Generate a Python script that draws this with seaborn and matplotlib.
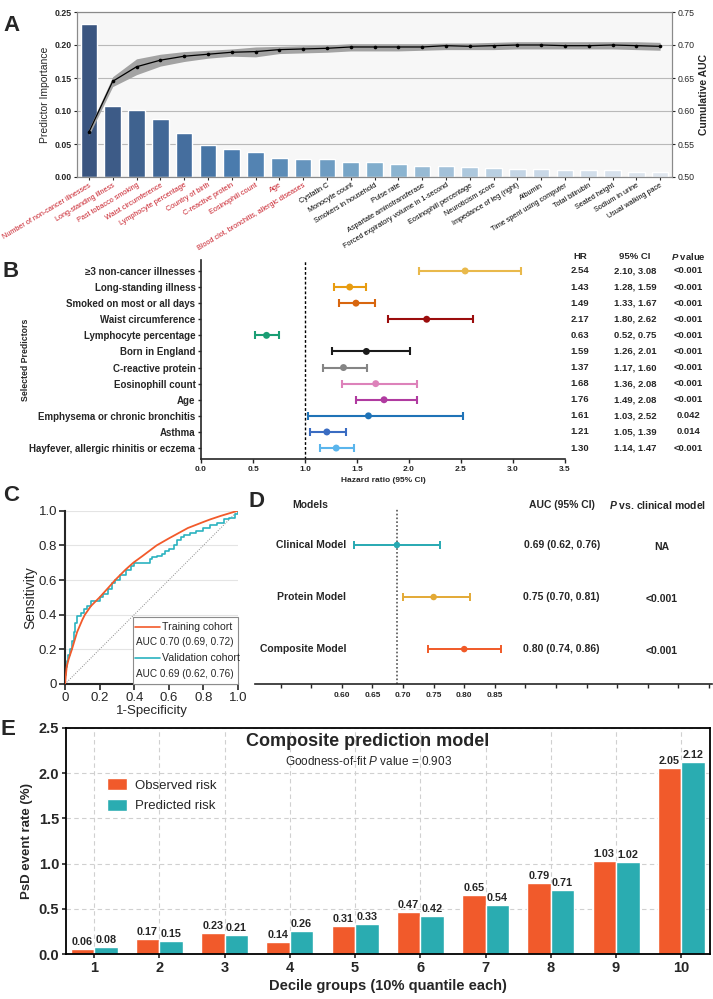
import matplotlib
matplotlib.use("Agg")
import matplotlib.pyplot as plt
import numpy as np
import pandas as pd
import seaborn as sns
from matplotlib.patches import Rectangle

# ---------------- panel A: predictor importance + cumulative AUC
a_features = [
    "Number of non-cancer illnesses", "Long-standing illness", "Past tobacco smoking",
    "Waist circumference", "Lymphocyte percentage", "Country of birth",
    "C-reactive protein", "Eosinophill count", "Age",
    "Blood clot, bronchitis, allergic diseases", "Cystatin C", "Monocyte count",
    "Smokers in household", "Pulse rate", "Aspartate aminotransferase",
    "Forced expiratory volume in 1-second", "Eosinophill percentage", "Neuroticism score",
    "Impedance of leg (right)", "Albumin", "Time spent using computer",
    "Total bilirubin", "Seated height", "Sodium in urine", "Usual walking pace",
]
a_n_selected = 10
a_importance = [0.232, 0.107, 0.102, 0.088, 0.067, 0.048, 0.042, 0.038, 0.029, 0.027,
                0.027, 0.023, 0.023, 0.019, 0.017, 0.017, 0.015, 0.014, 0.012, 0.012,
                0.011, 0.011, 0.010, 0.008, 0.008]
a_auc = [0.568, 0.645, 0.667, 0.677, 0.683, 0.686, 0.689, 0.690, 0.693, 0.694,
         0.695, 0.697, 0.697, 0.697, 0.697, 0.699, 0.698, 0.699, 0.700, 0.700,
         0.699, 0.699, 0.700, 0.699, 0.698]
a_auc_lo = [0.563, 0.637, 0.655, 0.668, 0.675, 0.680, 0.683, 0.682, 0.687, 0.688,
            0.689, 0.691, 0.691, 0.691, 0.692, 0.693, 0.693, 0.693, 0.694, 0.694,
            0.694, 0.694, 0.694, 0.693, 0.692]
a_auc_hi = [0.573, 0.652, 0.679, 0.686, 0.690, 0.692, 0.694, 0.697, 0.698, 0.699,
            0.700, 0.702, 0.702, 0.702, 0.702, 0.703, 0.703, 0.704, 0.705, 0.705,
            0.705, 0.705, 0.705, 0.705, 0.704]

# ---------------- panel B: hazard ratios
b_predictors = [
    "≥3 non-cancer illnesses", "Long-standing illness", "Smoked on most or all days",
    "Waist circumference", "Lymphocyte percentage", "Born in England",
    "C-reactive protein", "Eosinophill count", "Age",
    "Emphysema or chronic bronchitis", "Asthma", "Hayfever, allergic rhinitis or eczema",
]
b_hr = [2.54, 1.43, 1.49, 2.17, 0.63, 1.59, 1.37, 1.68, 1.76, 1.61, 1.21, 1.30]
b_lo = [2.10, 1.28, 1.33, 1.80, 0.52, 1.26, 1.17, 1.36, 1.49, 1.03, 1.05, 1.14]
b_hi = [3.08, 1.59, 1.67, 2.62, 0.75, 2.01, 1.60, 2.08, 2.08, 2.52, 1.39, 1.47]
b_p = ["<0.001"] * 9 + ["0.042", "0.014", "<0.001"]
b_colors = ["#e9b94b", "#e89c10", "#d8660f", "#9b0d0d", "#1a9e74", "#1b1b1b",
            "#858585", "#dd82ba", "#b03ba0", "#1f73b7", "#3a6cc2", "#5ab5ec"]

# ---------------- panel C: ROC curves
c_train_fpr = [0, 0.005, 0.01, 0.02, 0.04, 0.07, 0.1, 0.115, 0.15, 0.2, 0.25, 0.29, 0.35,
               0.395, 0.45, 0.53, 0.6, 0.71, 0.8, 0.84, 0.9, 0.95, 1.0]
c_train_tpr = [0, 0.05, 0.1, 0.14, 0.2, 0.3, 0.37, 0.4, 0.45, 0.5, 0.555, 0.6, 0.66,
               0.7, 0.74, 0.8, 0.84, 0.9, 0.935, 0.95, 0.97, 0.985, 1.0]
c_valid_fpr = [0, 0.005, 0.01, 0.02, 0.03, 0.04, 0.05, 0.06, 0.07, 0.09, 0.11, 0.13, 0.15,
               0.2, 0.22, 0.25, 0.27, 0.29, 0.32, 0.35, 0.38, 0.4, 0.49, 0.5, 0.53, 0.56,
               0.58, 0.6, 0.63, 0.65, 0.67, 0.69, 0.72, 0.76, 0.8, 0.84, 0.88, 0.92, 0.95,
               0.98, 1.0]
c_valid_tpr = [0.05, 0.1, 0.13, 0.17, 0.2, 0.25, 0.3, 0.35, 0.39, 0.41, 0.43, 0.45, 0.48,
               0.5, 0.52, 0.55, 0.58, 0.6, 0.63, 0.66, 0.68, 0.7, 0.72, 0.73, 0.74, 0.75,
               0.77, 0.78, 0.8, 0.83, 0.85, 0.86, 0.87, 0.88, 0.9, 0.92, 0.93, 0.95, 0.96,
               0.98, 1.0]
c_legend = ["Training cohort", "AUC 0.70 (0.69, 0.72)",
            "Validation cohort", "AUC 0.69 (0.62, 0.76)"]

# ---------------- panel D: model AUCs
d_models = ["Clinical Model", "Protein Model", "Composite Model"]
d_auc = [0.69, 0.75, 0.80]
d_lo = [0.62, 0.70, 0.74]
d_hi = [0.76, 0.81, 0.86]
d_p = ["NA", "<0.001", "<0.001"]
d_colors = ["#27a9b2", "#e3a935", "#f05a28"]

# ---------------- panel E: calibration by decile
e_deciles = list(range(1, 11))
e_observed = [0.06, 0.17, 0.23, 0.14, 0.31, 0.47, 0.65, 0.79, 1.03, 2.05]
e_predicted = [0.08, 0.15, 0.21, 0.26, 0.33, 0.42, 0.54, 0.71, 1.02, 2.12]
e_colors = ["#f15a2b", "#2aacb1"]

sns.set_style("ticks")
plt.rcParams["font.family"] = ["Liberation Sans", "DejaVu Sans"]
plt.rcParams["mathtext.fontset"] = "custom"
plt.rcParams["mathtext.rm"] = "Liberation Sans"
plt.rcParams["mathtext.it"] = "Liberation Sans:italic"
plt.rcParams["mathtext.bf"] = "Liberation Sans:bold"
plt.rcParams["mathtext.bfit"] = "Liberation Sans:italic:bold"

W, H = 713, 999
fig = plt.figure(figsize=(W / 100, H / 100), dpi=100)


def box(x0, y0, x1, y1):
    return [x0 / W, 1 - y1 / H, (x1 - x0) / W, (y1 - y0) / H]


# ======== A
ax = fig.add_axes(box(77, 12, 672, 177))
ax.set_facecolor("#f7f7f7")
bar_cols = sns.blend_palette(["#3a5580", "#4a7bad", "#80adcc", "#c4d5e5", "#e0e7ef"],
                             len(a_features))
sns.barplot(x=a_features, y=a_importance, hue=a_features, palette=bar_cols, legend=False,
            width=0.7, saturation=1, ax=ax, zorder=2)
ax.set_xlim(-0.5, len(a_features) - 0.5)
ax.set_ylim(0, 0.25)
ax.set_yticks(np.arange(0, 0.251, 0.05))
ax.yaxis.set_major_formatter("{x:.2f}")
ax.grid(axis="y", color="#b9b9b9", lw=0.8)
ax.set_axisbelow(True)
ax.set_xlabel("")
ax.set_ylabel("Predictor Importance", fontsize=7.5, labelpad=3)
for sp in ax.spines.values():
    sp.set_color("#8a8a8a")
    sp.set_linewidth(0.8)
ax.tick_params(axis="y", labelsize=6.3, length=2.5, width=0.8, pad=1.5)
for t in ax.get_yticklabels():
    t.set_fontweight("bold")
ax.set_xticks(range(len(a_features)))
ax.set_xticklabels(a_features, rotation=31, ha="right", rotation_mode="anchor", fontsize=5.2)
ax.tick_params(axis="x", length=2, width=0.8, pad=1.5)
for i, t in enumerate(ax.get_xticklabels()):
    t.set_color("#c81f2a" if i < a_n_selected else "black")

ax2 = ax.twinx()
xs = np.arange(len(a_features))
ax2.fill_between(xs, a_auc_lo, a_auc_hi, color="#a3a3a3", lw=0, zorder=1)
sns.lineplot(x=xs, y=a_auc, color="black", lw=0.9, marker="o", markersize=2.6,
             markeredgewidth=0, ax=ax2)
ax2.set_ylim(0.5, 0.75)
ax2.set_yticks(np.arange(0.5, 0.751, 0.05))
ax2.yaxis.set_major_formatter("{x:.2f}")
ax2.grid(False)
ax2.tick_params(axis="y", labelsize=6.3, length=2.5, width=0.8, pad=1.5)
ax2.set_ylabel("Cumulative AUC", fontsize=7.5, fontweight="bold", labelpad=3)
for sp in ax2.spines.values():
    sp.set_color("#8a8a8a")
    sp.set_linewidth(0.8)

# ======== B
ax = fig.add_axes(box(201, 260, 565, 459))
rows = np.arange(len(b_predictors))
for i in rows:
    ax.errorbar(b_hr[i], i, xerr=[[b_hr[i] - b_lo[i]], [b_hi[i] - b_hr[i]]], fmt="none",
                ecolor=b_colors[i], elinewidth=1.5, capsize=3, capthick=1.5)
sns.scatterplot(x=b_hr, y=rows, hue=b_predictors, palette=dict(zip(b_predictors, b_colors)),
                s=25, linewidth=0, legend=False, ax=ax, zorder=3)
ax.axvline(1.0, color="black", ls=(0, (2, 1.5)), lw=1)
ax.set_xlim(0, 3.5)
ax.set_ylim(len(b_predictors) - 0.32, -0.68)
ax.set_yticks(rows)
ax.set_yticklabels(b_predictors, fontsize=7, fontweight="bold")
ax.set_xticks(np.arange(0, 3.51, 0.5))
ax.xaxis.set_major_formatter("{x:.1f}")
ax.tick_params(axis="x", labelsize=6, length=3, width=1, pad=2)
ax.tick_params(axis="y", length=2.5, width=1, pad=1.5)
for t in ax.get_xticklabels():
    t.set_fontweight("bold")
ax.set_xlabel("Hazard ratio (95% CI)", fontsize=6, fontweight="bold", labelpad=3)
ax.set_ylabel("Selected Predictors", fontsize=6.3, fontweight="bold")
ax.yaxis.set_label_coords(-0.47, 0.5)
sns.despine(ax=ax)
for sp in ["left", "bottom"]:
    ax.spines[sp].set_linewidth(1.2)
tr = ax.get_yaxis_transform()
cols_x = [1.041, 1.192, 1.338]
for x, head in zip(cols_x, ["HR", "95% CI", r"$\mathbfit{P}$ value"]):
    ax.text(x, -0.87, head, transform=tr, ha="center", va="center", fontsize=6.8,
            fontweight="bold")
for i in rows:
    ax.text(cols_x[0], i, f"{b_hr[i]:.2f}", transform=tr, ha="center", va="center",
            fontsize=6.8, fontweight="bold")
    ax.text(cols_x[1], i, f"{b_lo[i]:.2f}, {b_hi[i]:.2f}", transform=tr, ha="center",
            va="center", fontsize=6.8, fontweight="bold")
    ax.text(cols_x[2], i, b_p[i], transform=tr, ha="center", va="center", fontsize=6.8,
            fontweight="bold")

# ======== C
ax = fig.add_axes(box(65, 510.7, 238, 684))
ax.plot([0, 1], [0, 1], ls=(0, (1, 1.5)), color="#8a8a8a", lw=0.7)
sns.lineplot(x=c_train_fpr, y=c_train_tpr, sort=False, estimator=None, color="#f25a2b",
             lw=1.3, ax=ax, zorder=3)
sns.lineplot(x=c_valid_fpr, y=c_valid_tpr, sort=False, estimator=None, color="#2bb3c0",
             lw=1.2, drawstyle="steps-post", ax=ax, zorder=2)
ax.set_xlim(0, 1)
ax.set_ylim(0, 1)
ticks = np.arange(0, 1.01, 0.2)
tick_txt = ["0", "0.2", "0.4", "0.6", "0.8", "1.0"]
ax.set_xticks(ticks)
ax.set_xticklabels(tick_txt, fontsize=9.5)
ax.set_yticks(ticks)
ax.set_yticklabels(tick_txt, fontsize=9.5)
ax.grid(axis="y", color="#e4e4e4", lw=0.8)
ax.set_axisbelow(True)
ax.tick_params(length=4, width=1.2, pad=1.5)
ax.set_xlabel("1-Specificity", fontsize=9.5, labelpad=1)
ax.set_ylabel("Sensitivity", fontsize=10, labelpad=1)
sns.despine(ax=ax)
for sp in ["left", "bottom"]:
    ax.spines[sp].set_linewidth(1.5)
ax.add_patch(Rectangle((0.391, 0.0), 0.609, 0.384, transform=ax.transAxes,
                       facecolor="white", edgecolor="#8c8c8c", lw=0.8, zorder=4,
                       clip_on=False))
leg_y = [0.328, 0.240, 0.150, 0.059]
for k, (y, txt) in enumerate(zip(leg_y, c_legend)):
    if k % 2 == 0:
        ax.plot([0.405, 0.549], [y, y], transform=ax.transAxes, lw=1.2, zorder=5,
                color=["#f25a2b", "#2bb3c0"][k // 2])
        ax.text(0.559, y, txt, transform=ax.transAxes, va="center", ha="left",
                fontsize=7.6, zorder=5)
    else:
        ax.text(0.41, y, txt, transform=ax.transAxes, va="center", ha="left",
                fontsize=7.2, zorder=5)

# ======== D
ax = fig.add_axes(box(255, 508, 712, 684))
drows = np.arange(len(d_models))
for i in drows:
    ax.errorbar(d_auc[i], i, xerr=[[d_auc[i] - d_lo[i]], [d_hi[i] - d_auc[i]]], fmt="none",
                ecolor=d_colors[i], elinewidth=1.4, capsize=3, capthick=1.4)
sns.scatterplot(x=d_auc, y=drows, hue=d_models, palette=dict(zip(d_models, d_colors)),
                s=22, linewidth=0, legend=False, ax=ax, zorder=3)
ax.axvline(d_auc[0], color="#555555", ls=(0, (1, 1.3)), lw=1.2)
ax.set_xlim(0.458, 1.205)
ax.set_ylim(2.67, -0.71)
xt = np.round(np.arange(0.5, 1.201, 0.05), 2)
ax.set_xticks(xt)
ax.set_xticklabels([f"{v:.2f}" if 0.59 < v < 0.86 else "" for v in xt], fontsize=6,
                   fontweight="bold")
ax.set_yticks([])
ax.tick_params(axis="x", length=3, width=1, pad=3)
for sp in ["left", "right", "top"]:
    ax.spines[sp].set_visible(False)
ax.spines["bottom"].set_linewidth(1.2)
tr = ax.get_yaxis_transform()
ax.text(0.12, -0.77, "Models", transform=tr, ha="center", va="center", fontsize=7.5,
        fontweight="bold")
ax.text(0.671, -0.77, "AUC (95% CI)", transform=tr, ha="center", va="center", fontsize=7.5,
        fontweight="bold")
ax.text(0.88, -0.77, r"$\mathbfit{P}$ vs. clinical model", transform=tr, ha="center",
        va="center", fontsize=7.5, fontweight="bold")
for i in drows:
    ax.text(0.2, i, d_models[i], transform=tr, ha="right", va="center", fontsize=7.5,
            fontweight="bold")
    ax.text(0.671, i, f"{d_auc[i]:.2f} ({d_lo[i]:.2f}, {d_hi[i]:.2f})", transform=tr,
            ha="center", va="center", fontsize=7.5, fontweight="bold")
    ax.text(0.89, i + 0.04, d_p[i], transform=tr, ha="center", va="center", fontsize=7.5,
            fontweight="bold")

# ======== E
ax = fig.add_axes(box(66, 727.7, 710, 954.3))
df_e = pd.DataFrame({
    "decile": e_deciles * 2,
    "risk": ["Observed risk"] * len(e_deciles) + ["Predicted risk"] * len(e_deciles),
    "rate": e_observed + e_predicted,
})
sns.barplot(data=df_e, x="decile", y="rate", hue="risk", palette=e_colors, width=0.72,
            saturation=1, ax=ax, zorder=2)
for cont in ax.containers:
    ax.bar_label(cont, fmt="%.2f", padding=1.5, fontsize=7.8, fontweight="bold")
ax.set_xlim(-0.43, 9.44)
ax.set_ylim(0, 2.5)
ax.set_yticks(np.arange(0, 2.51, 0.5))
ax.yaxis.set_major_formatter("{x:.1f}")
ax.grid(True, ls=(0, (4, 3)), color="#d0d0d0", lw=0.8)
ax.set_axisbelow(True)
ax.tick_params(labelsize=10.5, length=3, width=1.2, pad=2)
for t in ax.get_xticklabels() + ax.get_yticklabels():
    t.set_fontweight("bold")
ax.set_xlabel("Decile groups (10% quantile each)", fontsize=10.5, fontweight="bold",
              labelpad=3)
ax.set_ylabel("PsD event rate (%)", fontsize=9.5, fontweight="bold", labelpad=4)
for sp in ax.spines.values():
    sp.set_linewidth(1.3)
    sp.set_color("black")
ax.legend(loc="upper left", bbox_to_anchor=(0.045, 0.83), frameon=False, fontsize=9.5,
          handlelength=1.5, handleheight=1.0, labelspacing=0.55, handletextpad=0.6)
ax.text(0.469, 0.938, "Composite prediction model", transform=ax.transAxes, ha="center",
        va="center", fontsize=13, fontweight="bold")
ax.text(0.469, 0.849, r"Goodness-of-fit $\mathit{P}$ value = 0.903", transform=ax.transAxes,
        ha="center", va="center", fontsize=8.5)

# ======== panel letters
for letter, x, base in [("A", 3, 31), ("B", 3, 277), ("C", 3, 501), ("D", 249, 507),
                        ("E", 1, 735)]:
    fig.text(x / W, 1 - base / H, letter, fontsize=16, fontweight="bold", va="baseline")

fig.savefig("out.png", dpi=100)
